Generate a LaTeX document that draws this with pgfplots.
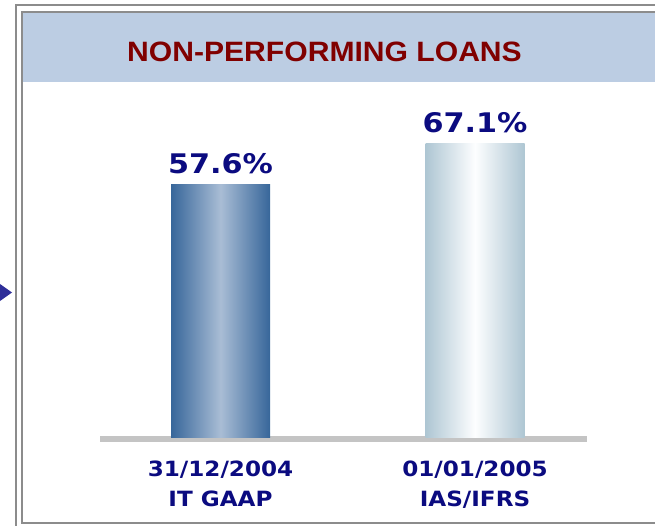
\documentclass[border=0pt]{standalone}
\usepackage{pgfplots}
\pgfplotsset{compat=1.18}
\usepackage{fontspec}
\setmainfont{DejaVu Sans}
\newfontfamily\numfont[FakeStretch=1.12]{DejaVu Sans Bold}
\newfontfamily\labfont[FakeStretch=1.1]{DejaVu Sans Bold}
\newfontfamily\titlefont[FakeStretch=1.075]{Liberation Sans Bold}
\definecolor{navy}{HTML}{0B0B80}
\definecolor{titlered}{HTML}{800000}
\definecolor{band}{HTML}{BCCDE3}
\definecolor{frame}{HTML}{8C8C8C}
\definecolor{baseg}{HTML}{C4C4C4}
\definecolor{edgeA}{HTML}{37669A}
\definecolor{midA}{HTML}{A9BDD5}
\definecolor{edgeB}{HTML}{AEC6D3}
\definecolor{midB}{HTML}{FDFEFF}
\definecolor{tri}{HTML}{2E2E99}
\begin{document}
\begin{tikzpicture}
\path[use as bounding box] (0pt,0pt) rectangle (655pt,-526pt);
% frame
\draw[frame, line width=2pt] (16pt,-5pt) rectangle (700pt,-540pt);
\draw[frame, line width=2pt] (22pt,-12pt) rectangle (700pt,-523pt);
\fill[band] (23pt,-13pt) rectangle (655pt,-82pt);
\node[anchor=base, text=titlered, font=\titlefont\fontsize{28}{28}\selectfont] at (324.5pt,-62pt) {NON-PERFORMING LOANS};
% side triangle
\fill[tri] (0pt,-284pt) -- (12pt,-292.5pt) -- (0pt,-301pt) -- cycle;
% baseline
\fill[baseg] (100pt,-436pt) rectangle (587pt,-442pt);
\begin{axis}[
  at={(100pt,-437pt)}, anchor=south west,
  scale only axis, width=487pt, height=337pt,
  xmin=-0.4735, xmax=1.44, ymin=0, ymax=77.03,
  axis line style={draw=none},
  tick style={draw=none},
  ytick=\empty,
  xtick={0,1},
  xticklabels={31/12/2004\\IT GAAP, 01/01/2005\\IAS/IFRS},
  xticklabel style={align=center, text=navy, font=\labfont\fontsize{21}{30}\selectfont, yshift=-16pt},
  ybar, bar width=99pt, bar shift=0pt,
  point meta=explicit symbolic,
  nodes near coords={\pgfplotspointmeta},
  every node near coord/.append style={anchor=base, yshift=11pt, text=navy, font=\numfont\fontsize{27}{27}\selectfont},
  clip=false,
]
\addplot[draw=none, left color=edgeA, right color=edgeA, middle color=midA] coordinates {(0,57.6) [57.6\%]};
\addplot[draw=none, left color=edgeB, right color=edgeB, middle color=midB] coordinates {(1,67.1) [67.1\%]};
\end{axis}
\end{tikzpicture}
\end{document}
